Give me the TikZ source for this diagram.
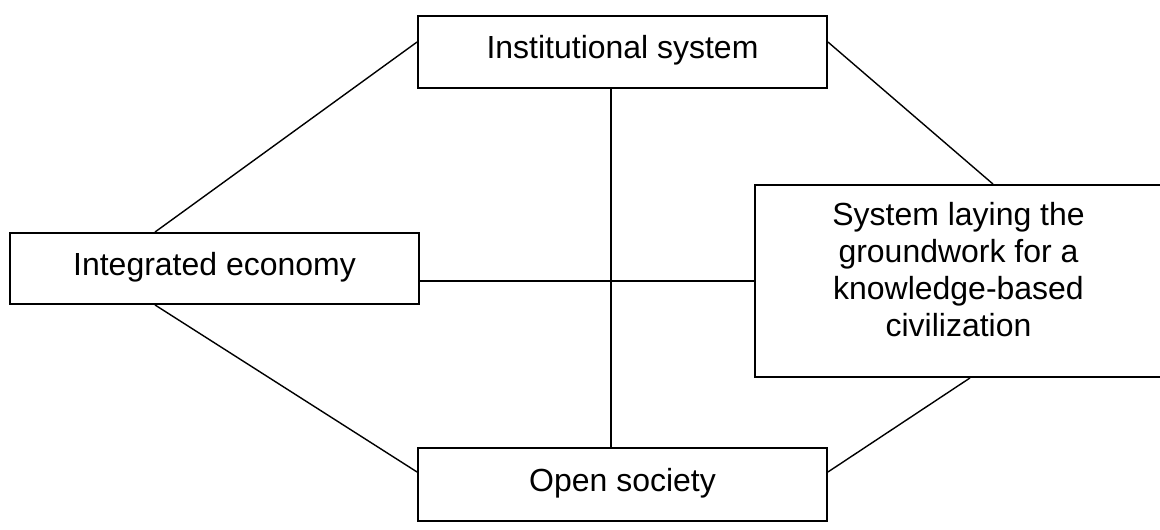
\documentclass[tikz,border=0pt]{standalone}
\usepackage{fontspec}
\setmainfont{Liberation Sans}
\usetikzlibrary{positioning}

\tikzset{
  part/.style={shape=rectangle,draw=black,line width=1.1pt,align=center,
    font=\fontsize{18.2pt}{21pt}\selectfont,inner sep=0pt,text depth=0.2cm},
  link/.style={draw=black,line width=0.8pt}
}

\begin{document}
\begin{tikzpicture}[x=0.02cm,y=-0.02cm]
\useasboundingbox (0,0) rectangle (1160,530);
\node[part,minimum width=8.18cm,minimum height=1.44cm] (inst) at (622.5,52) {Institutional system};
\node[part,minimum width=8.18cm,minimum height=1.42cm] (econ) at (214.5,268.5) {Integrated economy};
\node[part,minimum width=8.14cm,minimum height=3.84cm,text depth=0.47cm] (sys) at (958.5,281) {System laying the\\groundwork for a\\knowledge-based\\civilization};
\node[part,minimum width=8.18cm,minimum height=1.46cm] (open) at (622.5,484.5) {Open society};
% links between the parts
\path[link] ([yshift=0.2cm]inst.west) -- ([xshift=-1.19cm]econ.north);
\path[link] ([yshift=0.2cm]inst.east) -- ([xshift=0.69cm]sys.north);
\path[link] ([xshift=-0.23cm]inst.south) -- ([xshift=-0.23cm]open.north);
\path[link] (econ.east |- sys.west) -- (sys.west);
\path[link] ([xshift=-1.19cm]econ.south) -- ([yshift=0.25cm]open.west);
\path[link] ([yshift=0.25cm]open.east) -- ([xshift=0.23cm]sys.south);
\end{tikzpicture}
\end{document}
